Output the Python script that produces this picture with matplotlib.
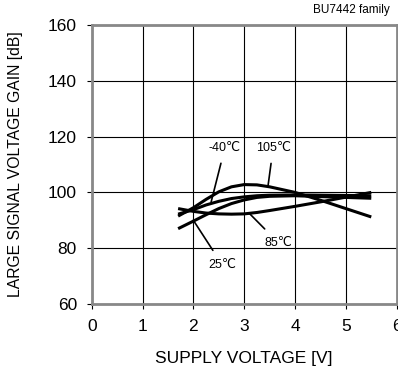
import matplotlib
matplotlib.use("Agg")
import matplotlib.pyplot as plt

plt.rcParams['font.family'] = ['Liberation Sans', 'DejaVu Sans']

# supply voltage [V]
vdd = [1.7, 2.0, 2.25, 2.5, 2.75, 3.0, 3.25, 3.5, 4.0, 4.5, 5.0, 5.5]
# large signal voltage gain [dB] per temperature
gain_105 = [91.5, 94.5, 97.5, 100.2, 102.0, 102.8, 102.7, 102.0, 100.0, 97.2, 94.2, 91.2]
gain_85 = [94.2, 93.2, 92.6, 92.3, 92.2, 92.3, 92.8, 93.5, 95.0, 96.6, 98.3, 100.0]
gain_m40 = [92.2, 93.8, 95.5, 96.8, 97.8, 98.4, 98.8, 99.0, 99.1, 99.0, 98.9, 98.8]
gain_25 = [87.0, 89.7, 92.0, 94.2, 96.0, 97.3, 98.2, 98.6, 98.8, 98.5, 98.2, 97.9]

fig = plt.figure(figsize=(3.98, 3.71), dpi=100)
ax = fig.add_axes([0.2304, 0.1806, 0.7663, 0.752])

for g in (gain_105, gain_85, gain_m40, gain_25):
    ax.plot(vdd, g, color='black', lw=2.2, solid_capstyle='butt')

ax.set_xlim(0, 6)
ax.set_ylim(60, 160)
ax.set_xticks(range(0, 7))
ax.set_yticks(range(60, 161, 20))
ax.grid(True, color='black', lw=0.8)
for s in ax.spines.values():
    s.set_color('#888888')
    s.set_linewidth(2)
ax.tick_params(direction='out', length=3.6, width=0.8, color='black', labelsize=12.5, pad=7)

ax.set_xlabel('SUPPLY VOLTAGE [V]', fontsize=12.5, va='center')
ax.xaxis.set_label_coords(0.5, -0.194)
ax.set_ylabel('LARGE SIGNAL VOLTAGE GAIN [dB]', fontsize=11.3, va='center')
ax.yaxis.set_label_coords(-0.251, 0.5)
fig.text(0.98, 0.958, 'BU7442 family', ha='right', va='bottom', fontsize=8.5)

# curve labels with leader lines
ax.annotate('-40℃', xy=(2.35, 96.6), xytext=(2.62, 116), fontsize=9, ha='center', va='center',
            arrowprops=dict(arrowstyle='-', color='black', lw=1.2, shrinkA=5, shrinkB=0))
ax.annotate('105℃', xy=(3.47, 102.5), xytext=(3.57, 116), fontsize=9, ha='center', va='center',
            arrowprops=dict(arrowstyle='-', color='black', lw=1.2, shrinkA=5, shrinkB=0))
ax.annotate('85℃', xy=(3.1, 92.5), xytext=(3.67, 82), fontsize=9, ha='center', va='center',
            arrowprops=dict(arrowstyle='-', color='black', lw=1.2, shrinkA=5, shrinkB=0))
ax.annotate('25℃', xy=(2.0, 90.0), xytext=(2.57, 74), fontsize=9, ha='center', va='center',
            arrowprops=dict(arrowstyle='-', color='black', lw=1.2, shrinkA=5, shrinkB=0))

fig.savefig('out.png', dpi=100)
